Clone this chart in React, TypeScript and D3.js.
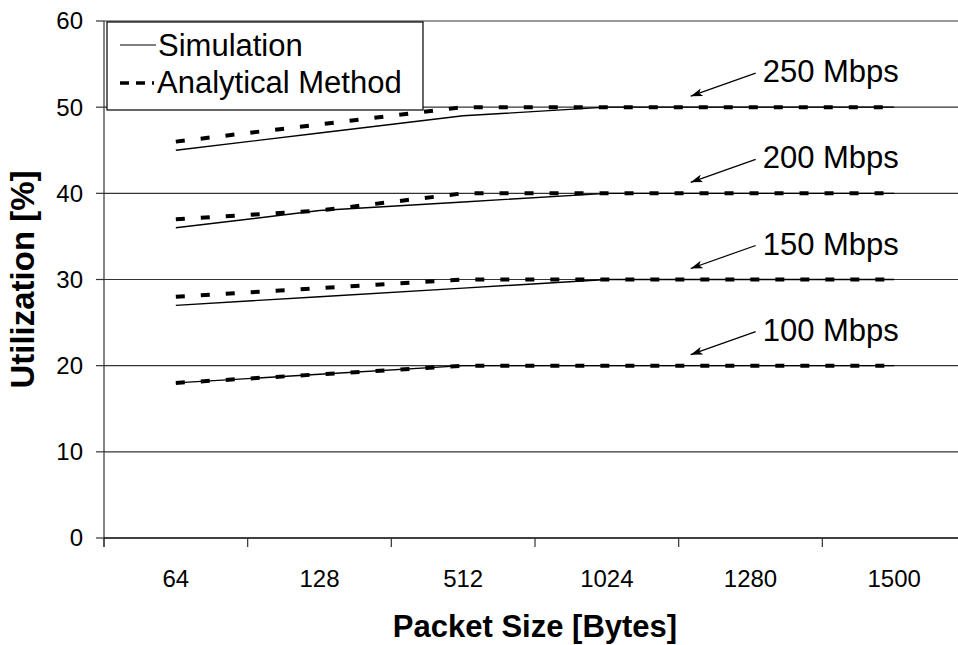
import React from 'react'
import * as d3 from 'd3'

const packetSizes = ['64', '128', '512', '1024', '1280', '1500']
const yTicks = [0, 10, 20, 30, 40, 50, 60]

// utilization [%] per rate, simulation vs analytical
const rates = ['250 Mbps', '200 Mbps', '150 Mbps', '100 Mbps']
const rateLevels = [50, 40, 30, 20]
const simulation = [
  [45, 47, 49, 50, 50, 50],
  [36, 38, 39, 40, 40, 40],
  [27, 28, 29, 30, 30, 30],
  [18, 19, 20, 20, 20, 20]
]
const analytical = [
  [46, 48, 50, 50, 50, 50],
  [37, 38, 40, 40, 40, 40],
  [28, 29, 30, 30, 30, 30],
  [18, 19, 20, 20, 20, 20]
]

const W = 958
const H = 645
const FONT = '"Liberation Sans", Arial, Helvetica, sans-serif'

export default function App() {
  const margin = { top: 21, left: 104, bottom: 107 }
  const x = d3.scaleBand().domain(packetSizes).range([margin.left, 966]).padding(0)
  const y = d3.scaleLinear().domain([0, 60]).range([H - margin.bottom, margin.top])
  const cx = (c: string) => (x(c) as number) + x.bandwidth() / 2

  const line = d3
    .line<number>()
    .x((_, i) => cx(packetSizes[i]))
    .y((d) => y(d))

  const x0 = margin.left
  const x1 = 966
  const yBase = y(0)

  return (
    <svg width={W} height={H} style={{ position: 'absolute', left: 0, top: 0, background: '#fff' }} fontFamily={FONT}>
      <defs>
        <marker id="arr" viewBox="0 0 12 8" refX="12" refY="4" markerWidth="12" markerHeight="8" markerUnits="userSpaceOnUse" orient="auto">
          <path d="M0,0 L12,4 L0,8 L3,4 z" fill="#000" />
        </marker>
      </defs>

      {/* gridlines */}
      {yTicks.filter((t) => t > 0).map((t) => (
        <line key={'g' + t} x1={x0} x2={x1} y1={y(t)} y2={y(t)} stroke="#333" strokeWidth={1.2} />
      ))}

      {/* y axis */}
      <line x1={x0} x2={x0} y1={y(60)} y2={yBase + 9} stroke="#333" strokeWidth={1.2} />
      {yTicks.map((t) => (
        <g key={'y' + t}>
          <line x1={x0 - 8} x2={x0} y1={y(t)} y2={y(t)} stroke="#333" strokeWidth={1.2} />
          <text x={x0 - 21} y={y(t)} dy="0.35em" textAnchor="end" fontSize={24}>
            {t}
          </text>
        </g>
      ))}

      {/* x axis */}
      <line x1={x0} x2={x1} y1={yBase} y2={yBase} stroke="#000" strokeWidth={1.4} />
      {packetSizes.map((c) => (
        <g key={'x' + c}>
          <line x1={x(c)} x2={x(c)} y1={yBase} y2={yBase + 9} stroke="#333" strokeWidth={1.2} />
          <text x={cx(c)} y={yBase + 49} textAnchor="middle" fontSize={24}>
            {c}
          </text>
        </g>
      ))}

      {/* series */}
      {rates.map((r, i) => (
        <g key={r}>
          <path d={line(simulation[i]) as string} fill="none" stroke="#000" strokeWidth={1.4} />
          <path d={line(analytical[i]) as string} fill="none" stroke="#000" strokeWidth={4} strokeDasharray="9,16" />
        </g>
      ))}

      {/* rate annotations */}
      {rates.map((r, i) => {
        const base = x('1280') as number
        const ly = y(rateLevels[i])
        return (
          <g key={'a' + r}>
            <line x1={base + 77} y1={ly - 34} x2={base + 12} y2={ly - 11} stroke="#000" strokeWidth={1.2} markerEnd="url(#arr)" />
            <text x={base + 84} y={ly - 25} fontSize={31}>
              {r}
            </text>
          </g>
        )
      })}

      {/* legend */}
      <g>
        <rect x={107} y={22} width={316} height={88} fill="#fff" stroke="#000" strokeWidth={1.2} />
        <line x1={120} x2={156} y1={45} y2={45} stroke="#000" strokeWidth={1.2} />
        <text x={158} y={56} fontSize={31}>
          Simulation
        </text>
        <line x1={120} x2={154} y1={83} y2={83} stroke="#000" strokeWidth={3.5} strokeDasharray="9,7" />
        <text x={157} y={93} fontSize={31}>
          Analytical Method
        </text>
      </g>

      {/* axis titles */}
      <text x={(x0 + x1) / 2} y={637} textAnchor="middle" fontSize={31} fontWeight="bold">
        Packet Size [Bytes]
      </text>
      <text transform={`translate(34,${(y(60) + yBase) / 2 + 0}) rotate(-90)`} textAnchor="middle" fontSize={33} fontWeight="bold">
        Utilization [%]
      </text>
    </svg>
  )
}
